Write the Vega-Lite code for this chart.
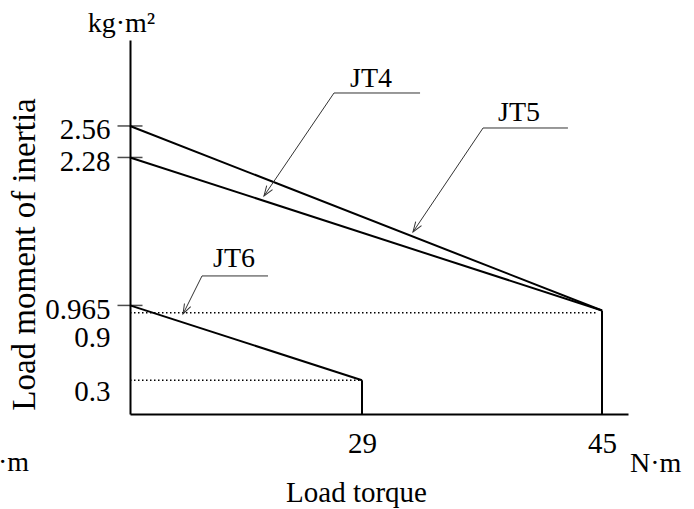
{
  "$schema": "https://vega.github.io/schema/vega-lite/v6.json",
  "autosize": {"type": "none"},
  "width": 498,
  "height": 374,
  "padding": {"left": 130, "top": 40, "right": 66, "bottom": 95},
  "background": "white",
  "config": {"view": {"stroke": null}, "font": "Liberation Serif"},
  "datasets": {
    "curves": [
      {"id": "JT5", "x": 0, "y": 2.56}, {"id": "JT5", "x": 45, "y": 0.92},
      {"id": "JT4", "x": 0, "y": 2.28}, {"id": "JT4", "x": 45, "y": 0.92},
      {"id": "JT6", "x": 0, "y": 0.965}, {"id": "JT6", "x": 29, "y": 0.3},
      {"id": "v29", "x": 29, "y": 0}, {"id": "v29", "x": 29, "y": 0.3},
      {"id": "v45", "x": 45, "y": 0}, {"id": "v45", "x": 45, "y": 0.92}
    ],
    "dots": [
      {"id": "d1", "x": 0, "y": 0.9}, {"id": "d1", "x": 44.7, "y": 0.9},
      {"id": "d2", "x": 0, "y": 0.3}, {"id": "d2", "x": 28.7, "y": 0.3}
    ],
    "yticks": [
      {"x": 0, "y": 2.56}, {"x": 0, "y": 2.28}, {"x": 0, "y": 0.965}
    ],
    "leaders": [
      {"id": "JT4", "o": 0, "x": 32.87, "y": 2.853},
      {"id": "JT4", "o": 1, "x": 25.5, "y": 2.853},
      {"id": "JT4", "o": 2, "x": 16.75, "y": 1.938},
      {"id": "JT5", "o": 0, "x": 42.73, "y": 2.542},
      {"id": "JT5", "o": 1, "x": 37.07, "y": 2.542},
      {"id": "JT5", "o": 2, "x": 32.4, "y": 1.618},
      {"id": "JT6", "o": 0, "x": 17.25, "y": 1.227},
      {"id": "JT6", "o": 1, "x": 9, "y": 1.227},
      {"id": "JT6", "o": 2, "x": 6.63, "y": 0.889}
    ],
    "labels": [
      {"label": "JT4", "x": 29.6, "y": 2.907},
      {"label": "JT5", "x": 39.47, "y": 2.6},
      {"label": "JT6", "x": 13.0, "y": 1.309},
      {"label": "kg·m²", "x": -1.06, "y": 3.396}
    ],
    "unitRight": [{"label": "N·m", "x": 47.8, "y": -0.516}],
    "unitLeft": [{"label": "N·m", "x": -12.625, "y": -0.511}]
  },
  "encoding": {
    "x": {
      "field": "x", "type": "quantitative",
      "scale": {"domain": [0, 29, 45, 47.6], "range": [0, 232, 472, 498], "nice": false, "zero": false},
      "axis": {
        "values": [29, 45], "ticks": false, "grid": false,
        "domain": true, "domainColor": "black", "domainWidth": 2,
        "labelFontSize": 29, "labelColor": "black", "labelPadding": 38,
        "labelBaseline": "alphabetic", "labelFlush": false, "labelOverlap": false,
        "labelExpr": "'' + datum.value",
        "title": "Load torque", "titleFontSize": 29, "titleFontWeight": "normal",
        "titleColor": "black", "titleX": 226, "titleY": 87,
        "titleBaseline": "alphabetic", "titleAlign": "center", "titleAngle": 0
      }
    },
    "y": {
      "field": "y", "type": "quantitative",
      "scale": {"domain": [0, 3.324], "nice": false, "zero": false},
      "axis": {
        "values": [2.56, 2.28, 0.965, 0.9, 0.3], "ticks": false, "grid": false,
        "domain": true, "domainColor": "black", "domainWidth": 2,
        "labelFontSize": 29, "labelColor": "black", "labelPadding": 20,
        "labelBaseline": "alphabetic", "labelAlign": "right",
        "labelFlush": false, "labelOverlap": false,
        "labelOffset": {"condition": [{"test": "datum.value == 0.9", "value": 34}, {"test": "datum.value == 0.3", "value": 20}], "value": 13},
        "labelExpr": "'' + datum.value",
        "title": "Load moment of inertia", "titleFontSize": 33, "titleFontWeight": "normal",
        "titleColor": "black", "titleX": -96, "titleY": 214,
        "titleBaseline": "alphabetic", "titleAlign": "center", "titleAngle": -90
      }
    }
  },
  "layer": [
    {
      "data": {"name": "dots"},
      "mark": {"type": "line", "color": "black", "strokeWidth": 1.3, "strokeDash": [1.5, 2.5]},
      "encoding": {"detail": {"field": "id"}}
    },
    {
      "data": {"name": "curves"},
      "mark": {"type": "line", "color": "black", "strokeWidth": 2},
      "encoding": {"detail": {"field": "id"}}
    },
    {
      "data": {"name": "yticks"},
      "mark": {"type": "tick", "orient": "horizontal", "color": "black", "size": 25, "thickness": 1.5}
    },
    {
      "data": {"name": "leaders"},
      "mark": {"type": "line", "color": "#333333", "strokeWidth": 1},
      "encoding": {"detail": {"field": "id"}, "order": {"field": "o", "type": "quantitative"}}
    },
    {
      "data": {"name": "leaders"},
      "transform": [{"filter": "datum.o == 2 && datum.id == 'JT4'"}],
      "mark": {"type": "point", "shape": "M -0.35 -1 L 0 0 L 0.35 -1", "angle": 34, "size": 400, "filled": false, "stroke": "#333333", "strokeWidth": 1, "opacity": 1}
    },
    {
      "data": {"name": "leaders"},
      "transform": [{"filter": "datum.o == 2 && datum.id == 'JT5'"}],
      "mark": {"type": "point", "shape": "M -0.35 -1 L 0 0 L 0.35 -1", "angle": 34, "size": 400, "filled": false, "stroke": "#333333", "strokeWidth": 1, "opacity": 1}
    },
    {
      "data": {"name": "leaders"},
      "transform": [{"filter": "datum.o == 2 && datum.id == 'JT6'"}],
      "mark": {"type": "point", "shape": "M -0.35 -1 L 0 0 L 0.35 -1", "angle": 27, "size": 400, "filled": false, "stroke": "#333333", "strokeWidth": 1, "opacity": 1}
    },
    {
      "data": {"name": "labels"},
      "mark": {"type": "text", "fontSize": 28, "align": "center", "baseline": "alphabetic", "color": "black"},
      "encoding": {"text": {"field": "label"}}
    },
    {
      "data": {"name": "unitRight"},
      "mark": {"type": "text", "fontSize": 28, "align": "left", "baseline": "alphabetic", "color": "black"},
      "encoding": {"text": {"field": "label"}}
    },
    {
      "data": {"name": "unitLeft"},
      "mark": {"type": "text", "fontSize": 28, "align": "right", "baseline": "alphabetic", "color": "black"},
      "encoding": {"text": {"field": "label"}}
    }
  ]
}
